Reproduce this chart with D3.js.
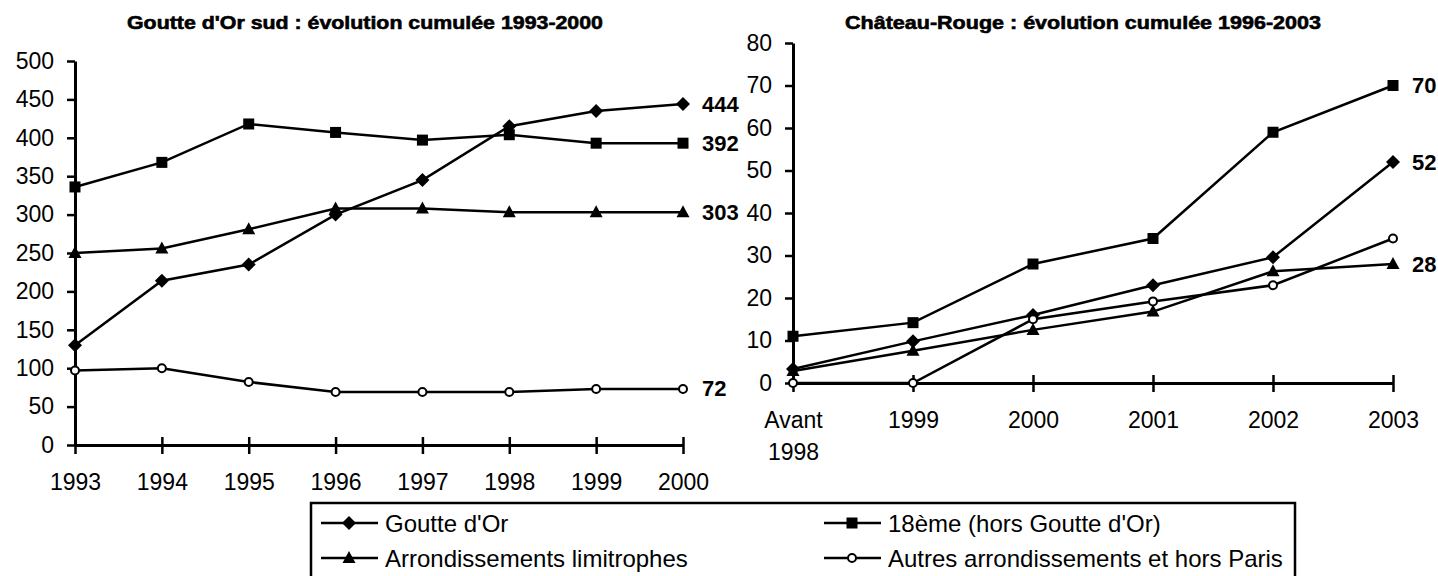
<!DOCTYPE html>
<html><head><meta charset="utf-8">
<script src="https://cdn.jsdelivr.net/npm/d3@7"></script>
<style>
html,body{margin:0;padding:0;background:#fff;}
svg{display:block;font-family:"Liberation Sans",Arial,sans-serif;}
</style></head>
<body><svg id="c" width="1438" height="576"></svg>
<script>
// ---- data ----
const leftTitle = "Goutte d'Or sud : évolution cumulée 1993-2000";
const rightTitle = "Château-Rouge : évolution cumulée 1996-2003";
const leftYears = ["1993","1994","1995","1996","1997","1998","1999","2000"];
const leftGoutte = [130, 214, 235, 300, 345, 415, 435, 444];
const left18 = [336, 368, 418, 407, 397, 404, 393, 393];
const leftLimit = [250, 256, 281, 308, 308, 303, 303, 303];
const leftAutres = [97, 100, 82, 69, 69, 69, 73, 73];
const leftEndLabels = ["444", "392", "303", "72"];
const leftYTicks = [0,50,100,150,200,250,300,350,400,450,500];

const rightCats = ["Avant 1998","1999","2000","2001","2002","2003"];
const rightGoutte = [3.3, 9.8, 16, 23, 29.6, 52];
const right18 = [11, 14.2, 28, 34, 59, 70];
const rightLimit = [2.8, 7.6, 12.5, 16.8, 26.3, 28];
const rightAutres = [0, 0, 15, 19.2, 23, 34];
const rightEndLabels = ["52", "70", "28", null];
const rightYTicks = [0,10,20,30,40,50,60,70,80];

const seriesNames = ["Goutte d'Or", "18ème (hors Goutte d'Or)", "Arrondissements limitrophes", "Autres arrondissements et hors Paris"];
const seriesSymbols = ["diamond", "square", "triangle", "circle"];

// ---- drawing ----
const svg = d3.select("#c");
const FONT = "23px";

function marker(g, type, x, y) {
  if (type === "diamond") {
    const r = 7;
    g.append("path").attr("d", `M${x},${y-r}L${x+r},${y}L${x},${y+r}L${x-r},${y}Z`).attr("fill","#000");
  } else if (type === "square") {
    const h = 5.5;
    g.append("rect").attr("x", x-h).attr("y", y-h).attr("width", 2*h).attr("height", 2*h).attr("fill","#000");
  } else if (type === "triangle") {
    g.append("path").attr("d", `M${x},${y-7}L${x+6.5},${y+5}L${x-6.5},${y+5}Z`).attr("fill","#000");
  } else {
    g.append("circle").attr("cx", x).attr("cy", y).attr("r", 4).attr("fill","#fff").attr("stroke","#000").attr("stroke-width",2);
  }
}

function chart(opts) {
  const g = svg.append("g");
  const x = d3.scalePoint().domain(opts.cats).range(opts.xr);
  const y = d3.scaleLinear().domain(opts.yd).range(opts.yr);

  // title
  g.append("text").attr("x", opts.titleX).attr("y", 22).attr("text-anchor","middle")
    .attr("dominant-baseline","central").attr("font-size","19px").attr("font-weight","bold")
    .attr("stroke","#000").attr("stroke-width",0.6)
    .attr("textLength", opts.titleW).attr("lengthAdjust","spacingAndGlyphs").text(opts.title);

  // y axis
  const ya = g.append("g").attr("transform", `translate(${opts.xr[0]},0)`)
    .call(d3.axisLeft(y).tickValues(opts.yticks).tickSizeInner(8).tickSizeOuter(0).tickPadding(13).tickFormat(d3.format("d")));
  ya.select(".domain").attr("stroke-width", 3).attr("stroke","#000");
  ya.selectAll(".tick line").attr("stroke-width", 2.5).attr("stroke","#000");
  ya.selectAll(".tick text").attr("font-size", FONT).attr("font-family","Liberation Sans, Arial, sans-serif").attr("fill","#000");

  // x axis
  const xa = g.append("g").attr("transform", `translate(0,${opts.yr[0]})`)
    .call(d3.axisBottom(x).tickSizeInner(9).tickSizeOuter(0).tickFormat(""));
  xa.select(".domain").attr("stroke-width", 3).attr("stroke","#000");
  xa.selectAll(".tick line").attr("y1", -8).attr("stroke-width", 2.5).attr("stroke","#000");
  xa.selectAll(".tick").each(function(d) {
    const parts = d.split(" ");
    const t = d3.select(this).append("text").attr("fill","#000").attr("font-size", FONT)
      .attr("text-anchor","middle").attr("font-family","Liberation Sans, Arial, sans-serif");
    parts.forEach((p, i) => {
      t.append("tspan").attr("x", 0).attr("y", 37 + i*32).attr("dy","0.35em").text(p);
    });
  });

  // series
  const line = d3.line().x((d,i) => x(opts.cats[i])).y(d => y(d));
  opts.series.forEach((s, k) => {
    g.append("path").datum(s).attr("d", line).attr("fill","none").attr("stroke","#000").attr("stroke-width", 2.5);
  });
  opts.series.forEach((s, k) => {
    s.forEach((v, i) => marker(g, seriesSymbols[k], x(opts.cats[i]), y(v)));
  });
  // end labels
  opts.series.forEach((s, k) => {
    const lab = opts.labels[k];
    if (!lab) return;
    const last = opts.cats[opts.cats.length-1];
    g.append("text").attr("x", x(last) + 19).attr("y", y(s[s.length-1]))
      .attr("dominant-baseline","central").attr("font-size","22px").attr("font-weight","bold").text(lab);
  });
}

chart({
  cats: leftYears, xr: [75, 683], yd: [0, 500], yr: [445, 61], yticks: leftYTicks,
  title: leftTitle, titleX: 365, titleW: 476,
  series: [leftGoutte, left18, leftLimit, leftAutres], labels: leftEndLabels
});
chart({
  cats: rightCats, xr: [793, 1393], yd: [0, 80], yr: [383, 43], yticks: rightYTicks,
  title: rightTitle, titleX: 1083, titleW: 476,
  series: [rightGoutte, right18, rightLimit, rightAutres], labels: rightEndLabels
});

// legend
const lg = svg.append("g");
lg.append("rect").attr("x", 311).attr("y", 503).attr("width", 984).attr("height", 90)
  .attr("fill","none").attr("stroke","#000").attr("stroke-width", 2.5);
const legPos = [[321, 523], [824, 523], [321, 558], [824, 558]];
seriesNames.forEach((name, k) => {
  const [lx, ly] = legPos[k];
  lg.append("line").attr("x1", lx).attr("x2", lx + 57).attr("y1", ly).attr("y2", ly)
    .attr("stroke","#000").attr("stroke-width", 2.5);
  marker(lg, seriesSymbols[k], lx + 28, ly);
  lg.append("text").attr("x", lx + 64).attr("y", ly).attr("dominant-baseline","central")
    .attr("font-size","24px").text(name);
});
</script>
</body></html>
